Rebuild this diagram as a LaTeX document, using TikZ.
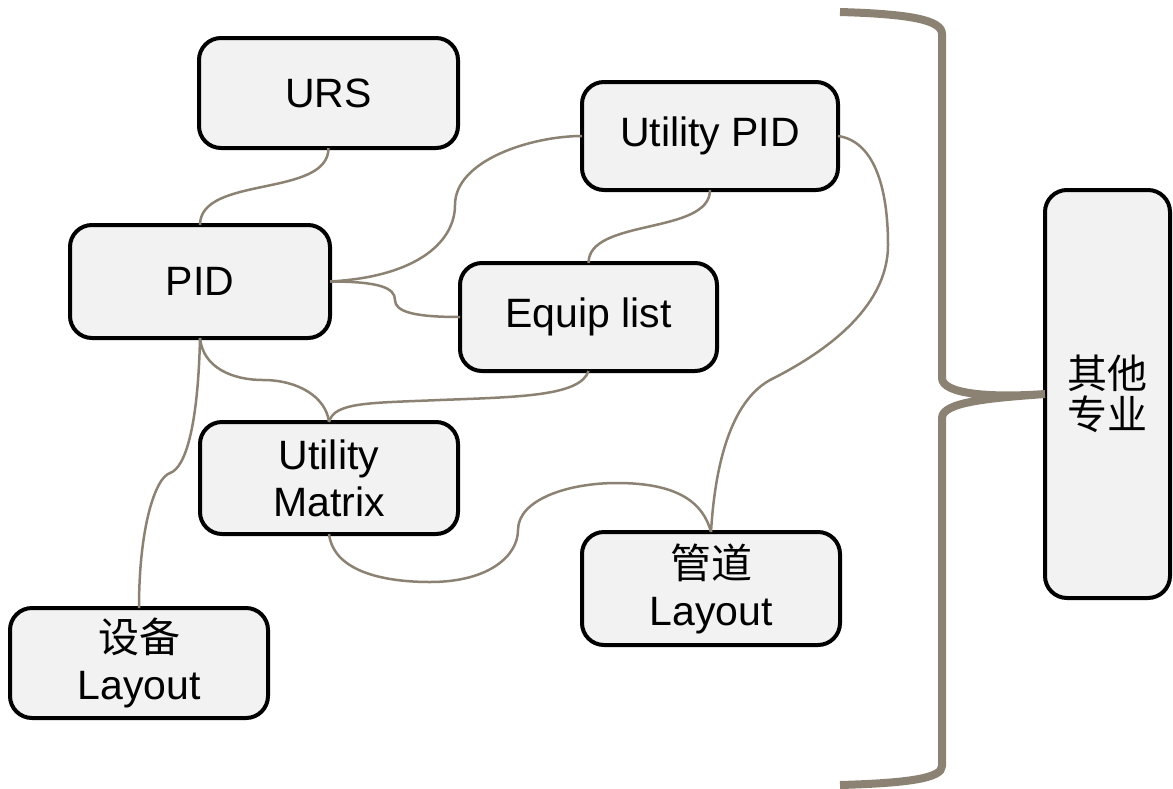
\documentclass[tikz,border=0pt]{standalone}
\usepackage{fontspec}
\setmainfont{Liberation Sans}
\newfontfamily\cjk{Noto Sans CJK SC}
\definecolor{boxfill}{HTML}{F2F2F2}
\definecolor{conn}{HTML}{8C8274}
\tikzset{
  box/.style={draw=black, line width=4pt, fill=boxfill, rounded corners=22pt,
    align=center, inner sep=0pt, outer sep=0pt,
    font=\fontsize{41}{47}\selectfont},
  link/.style={draw=conn, line width=2.5pt},
  bracestroke/.style={draw=conn, line width=8pt}
}
\begin{document}
\begin{tikzpicture}[x=1pt,y=-1pt]
\useasboundingbox (0,0) rectangle (1173,788);
% boxes
\node[box, minimum width=259pt, minimum height=110pt] (urs) at (328.5,93) {URS};
\node[box, minimum width=256pt, minimum height=108pt] (upid) at (710,136) {Utility PID};
\node[box, minimum width=260pt, minimum height=113pt] (pid) at (200,281.5) {PID};
\node[box, minimum width=257pt, minimum height=108pt] (equip) at (588.5,317) {Equip list};
\node[box, minimum width=258pt, minimum height=112pt] (umat) at (329,478) {Utility\\Matrix};
\node[box, minimum width=258pt, minimum height=113pt] (pipe) at (711,588.5) {{\cjk 管道}\\Layout};
\node[box, minimum width=258pt, minimum height=110pt] (dev) at (139,663) {{\cjk 设备}\\Layout};
\node[box, minimum width=125pt, minimum height=408pt, font=\cjk\fontsize{40}{41}\selectfont] (other) at (1107.5,394) {其他\\专业};
% connectors
\draw[link] (urs.south) .. controls +(0,50) and +(0,-50) .. (pid.north);
\draw[link] (pid.east) .. controls +(90,-5) and +(0,35) .. (455,205)
  .. controls +(0,-45) and +(-50,0) .. (upid.west);
\draw[link] (pid.east) .. controls +(50,0) and +(0,-12) .. (395,300)
  .. controls +(0,12) and +(-45,0) .. (equip.west);
\draw[link] (upid.south) .. controls +(0,45) and +(0,-45) .. (equip.north);
\draw[link] (pid.south) .. controls +(3,30) and +(-30,0) .. (263,380)
  .. controls +(35,0) and +(-3,-25) .. (umat.north);
\draw[link] (equip.south) .. controls +(-8,25) and +(80,-3) .. (440,400)
  .. controls +(-70,3) and +(5,-20) .. (umat.north);
\draw[link] (pid.south) .. controls +(-2,90) and +(15,-5) .. (170,473)
  .. controls +(-15,5) and +(0,-80) .. (dev.north);
\draw[link] (umat.south) .. controls +(5,40) and +(-40,0) .. (430,582)
  .. controls +(60,0) and +(0,25) .. (518,530)
  .. controls +(0,-30) and +(-50,0) .. (617,483)
  .. controls +(60,0) and +(-8,-30) .. (pipe.north);
\draw[link] (upid.east) .. controls +(35,5) and +(0,-60) .. (888,245)
  .. controls +(0,65) and +(50,-25) .. (770,380)
  .. controls +(-45,25) and +(3,-50) .. (pipe.north);
% brace
\coordinate (bt) at (840,12);
\coordinate (bb) at (840,785);
\draw[bracestroke] (bt) .. controls (910,14) and (942,20) .. (942,34)
  -- (942,378) .. controls (942,394) and (990,398) .. (other.west)
  .. controls (990,398) and (942,402) .. (942,418)
  -- (942,766) .. controls (942,778) and (910,783) .. (bb);
\end{tikzpicture}
\end{document}
